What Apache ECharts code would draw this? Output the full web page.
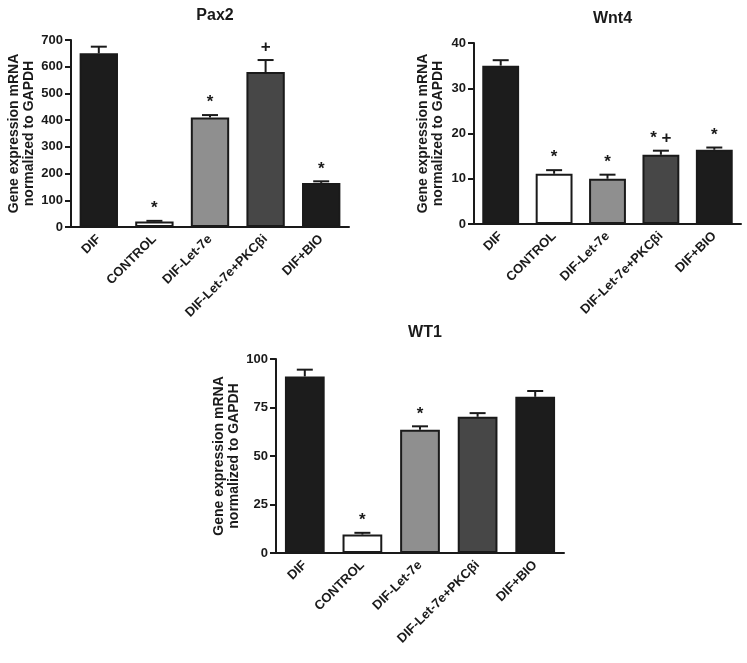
<!DOCTYPE html>
<html>
<head>
<meta charset="utf-8">
<script src="https://cdn.jsdelivr.net/npm/echarts@6/dist/echarts.min.js"></script>
<style>
html,body{margin:0;padding:0;background:#fff;}
#chart{width:747px;height:663px;}
</style>
</head>
<body>
<div id="chart"></div>
<script>
const categories = ['DIF', 'CONTROL', 'DIF-Let-7e', 'DIF-Let-7e+PKC\u03B2i', 'DIF+BIO'];
const barColors = ['#1c1c1c', '#ffffff', '#8f8f8f', '#474747', '#1c1c1c'];

const pax2Mean = [650, 21, 410, 580, 165];
const pax2Err = [25, 2, 9, 45, 6];
const pax2Marks = ['', '*', '*', '+', '*'];
const pax2Ticks = { min: 0, max: 700, interval: 100 };

const wnt4Mean = [35.0, 11.1, 10.0, 15.3, 16.4];
const wnt4Err = [1.2, 0.8, 0.9, 0.9, 0.5];
const wnt4Marks = ['', '*', '*', '* +', '*'];
const wnt4Ticks = { min: 0, max: 40, interval: 10 };

const wt1Mean = [91.0, 9.5, 63.5, 70.2, 80.5];
const wt1Err = [3.5, 0.9, 1.8, 1.9, 3.0];
const wt1Marks = ['', '*', '*', '', ''];
const wt1Ticks = { min: 0, max: 100, interval: 25 };

const titles = ['Pax2', 'Wnt4', 'WT1'];
const yName = 'Gene expression mRNA\nnormalized to GAPDH';

const FONT = 'Arial, "Liberation Sans", sans-serif';
const grids = [
  { left: 71, top: 40, width: 278, height: 187 },
  { left: 474, top: 43, width: 267, height: 181 },
  { left: 276, top: 359, width: 288, height: 194 }
];
const nameGaps = [34, 28, 34];
const panels = [
  { mean: pax2Mean, err: pax2Err, marks: pax2Marks, ticks: pax2Ticks },
  { mean: wnt4Mean, err: wnt4Err, marks: wnt4Marks, ticks: wnt4Ticks },
  { mean: wt1Mean, err: wt1Err, marks: wt1Marks, ticks: wt1Ticks }
];

const chart = echarts.init(document.getElementById('chart'), null, { renderer: 'canvas' });

const option = {
  animation: false,
  backgroundColor: '#ffffff',
  title: grids.map((g, i) => ({
    text: titles[i],
    left: g.left + g.width / 2,
    top: [3, 6, 320][i],
    textAlign: 'center',
    textStyle: { fontFamily: FONT, fontWeight: 'bold', fontSize: 16, color: '#1a1a1a' }
  })),
  grid: grids.map(g => ({ left: g.left, top: g.top, width: g.width, height: g.height, containLabel: false })),
  xAxis: grids.map((g, i) => ({
    type: 'category',
    gridIndex: i,
    data: categories,
    axisLine: { lineStyle: { color: '#1a1a1a', width: 2 } },
    axisTick: { alignWithLabel: true, length: 6, lineStyle: { color: '#1a1a1a', width: 2 } },
    axisLabel: {
      rotate: 45, interval: 0, margin: 10,
      fontFamily: FONT, fontWeight: 'bold', fontSize: 13, color: '#1a1a1a'
    }
  })),
  yAxis: panels.map((p, i) => ({
    type: 'value',
    gridIndex: i,
    min: p.ticks.min, max: p.ticks.max, interval: p.ticks.interval,
    name: yName,
    nameLocation: 'middle',
    nameGap: nameGaps[i],
    nameTextStyle: { fontFamily: FONT, fontWeight: 'bold', fontSize: 14, lineHeight: 15, color: '#1a1a1a' },
    axisLine: { show: true, lineStyle: { color: '#1a1a1a', width: 2 } },
    axisTick: { show: true, length: 6, lineStyle: { color: '#1a1a1a', width: 2 } },
    axisLabel: { margin: 8, fontFamily: FONT, fontWeight: 'bold', fontSize: 13, color: '#1a1a1a' },
    splitLine: { show: false }
  })),
  series: []
};

panels.forEach((p, i) => {
  option.series.push({
    type: 'bar',
    xAxisIndex: i, yAxisIndex: i,
    barWidth: '69%',
    data: p.mean.map((v, k) => ({
      value: v,
      itemStyle: { color: barColors[k], borderColor: '#1a1a1a', borderWidth: 2 }
    })),
    z: 2
  });
  option.series.push({
    type: 'custom',
    xAxisIndex: i, yAxisIndex: i,
    z: 3,
    data: p.mean.map((v, k) => [k, v, v + p.err[k], p.marks[k]]),
    renderItem: function (params, api) {
      const k = api.value(0);
      const base = api.coord([k, api.value(1)]);
      const top = api.coord([k, api.value(2)]);
      const mark = p.marks[k];
      const capHalf = 8;
      const children = [
        { type: 'line', shape: { x1: base[0], y1: base[1], x2: top[0], y2: top[1] },
          style: { stroke: '#1a1a1a', lineWidth: 2 } },
        { type: 'line', shape: { x1: top[0] - capHalf, y1: top[1], x2: top[0] + capHalf, y2: top[1] },
          style: { stroke: '#1a1a1a', lineWidth: 2 } }
      ];
      if (mark) {
        children.push({
          type: 'text',
          style: {
            text: mark, x: top[0], y: top[1] - 4,
            textAlign: 'center', textVerticalAlign: 'bottom',
            fontFamily: FONT, fontWeight: 'bold', fontSize: 17, fill: '#1a1a1a'
          }
        });
      }
      return { type: 'group', children: children };
    }
  });
});

chart.setOption(option);
</script>
</body>
</html>
